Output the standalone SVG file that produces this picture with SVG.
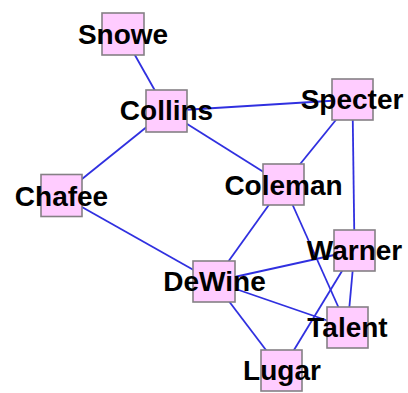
<svg xmlns="http://www.w3.org/2000/svg" width="408" height="393" viewBox="0 0 408 393">
<style>
.e{stroke:#3030e0;stroke-width:1.8;fill:none}
.b{fill:#ffccff;stroke:#858085;stroke-width:1.6}
.t{font-family:"Liberation Sans",Arial,sans-serif;font-weight:bold;font-size:28px;fill:#000;text-anchor:middle}
</style>
<rect width="408" height="393" fill="#fff"/>
<g id="connectors">
<line class="e" x1="123" y1="34" x2="166.5" y2="111"/>
<line class="e" x1="166.5" y1="111" x2="61.5" y2="195.5"/>
<line class="e" x1="166.5" y1="111" x2="352.5" y2="99.5"/>
<line class="e" x1="166.5" y1="111" x2="283.5" y2="184.5"/>
<line class="e" x1="352.5" y1="99.5" x2="283.5" y2="184.5"/>
<line class="e" x1="352.5" y1="99.5" x2="354.5" y2="250.5"/>
<line class="e" x1="61.5" y1="195.5" x2="214" y2="281.5"/>
<line class="e" x1="283.5" y1="184.5" x2="214" y2="281.5"/>
<line class="e" x1="283.5" y1="184.5" x2="347.5" y2="327.5"/>
<line class="e" x1="214" y1="281.5" x2="354.5" y2="250.5"/>
<line class="e" x1="214" y1="281.5" x2="347.5" y2="327.5"/>
<line class="e" x1="214" y1="281.5" x2="281.5" y2="370.5"/>
<line class="e" x1="354.5" y1="250.5" x2="347.5" y2="327.5"/>
<line class="e" x1="354.5" y1="250.5" x2="281.5" y2="370.5"/>
</g>
<g id="Snowe"><rect class="b" x="102" y="13" width="42" height="42"/><text class="t" x="123" y="44">Snowe</text></g>
<g id="Collins"><rect class="b" x="146" y="90" width="41" height="42"/><text class="t" x="166.5" y="120">Collins</text></g>
<g id="Chafee"><rect class="b" x="41" y="174.5" width="41" height="42"/><text class="t" x="61.5" y="205.5">Chafee</text></g>
<g id="Specter"><rect class="b" x="332" y="79" width="41" height="41"/><text class="t" x="352" y="109">Specter</text></g>
<g id="Coleman"><rect class="b" x="263" y="164" width="41" height="41"/><text class="t" x="283.5" y="195">Coleman</text></g>
<g id="DeWine"><rect class="b" x="193" y="261" width="42" height="41"/><text class="t" x="214.5" y="291">DeWine</text></g>
<g id="Warner"><rect class="b" x="334" y="230" width="41" height="41"/><text class="t" x="354.5" y="259.5">Warner</text></g>
<g id="Talent"><rect class="b" x="327" y="307" width="41" height="41"/><text class="t" x="347.5" y="336.5">Talent</text></g>
<g id="Lugar"><rect class="b" x="261" y="350" width="41" height="41"/><text class="t" x="282" y="380">Lugar</text></g>
</svg>
